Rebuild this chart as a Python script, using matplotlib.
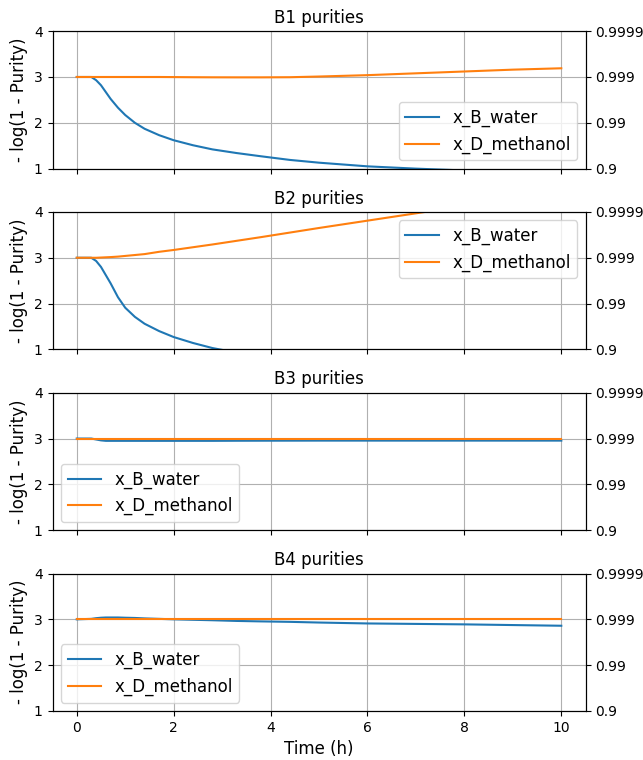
import matplotlib
matplotlib.use("Agg")
import matplotlib.pyplot as plt

time_h = [0, 0.3, 0.4, 0.5, 0.6, 0.7, 0.85, 1.0, 1.2, 1.4, 1.7, 2.0, 2.4, 2.8,
          3.3, 3.8, 4.4, 5, 6, 7, 8, 9, 10]

b1_water = [3.0, 3.0, 2.93, 2.82, 2.67, 2.52, 2.33, 2.17, 2.0, 1.87, 1.73, 1.62, 1.51, 1.42,
            1.34, 1.27, 1.19, 1.13, 1.05, 1.0, 0.96, 0.93, 0.90]
b1_methanol = [3.0, 3.0, 3.0, 3.0, 3.0, 3.0, 3.0, 3.0, 3.0, 3.0, 3.0, 2.998, 2.995, 2.993,
               2.992, 2.992, 2.995, 3.01, 3.04, 3.08, 3.12, 3.16, 3.19]

b2_water = [3.0, 3.0, 2.93, 2.80, 2.62, 2.44, 2.14, 1.91, 1.71, 1.56, 1.40, 1.27, 1.14, 1.03,
            0.93, 0.85, 0.77, 0.70, 0.60, 0.50, 0.45, 0.40, 0.35]
b2_methanol = [3.0, 3.0, 3.0, 3.005, 3.01, 3.015, 3.025, 3.04, 3.06, 3.08, 3.13, 3.17, 3.23, 3.29,
               3.37, 3.45, 3.55, 3.65, 3.81, 3.97, 4.13, 4.30, 4.47]

b3_water = [3.0, 3.0, 2.98, 2.96, 2.95, 2.95, 2.95, 2.95, 2.95, 2.95, 2.95, 2.95, 2.95, 2.95,
            2.952, 2.953, 2.954, 2.955, 2.955, 2.955, 2.955, 2.955, 2.955]
b3_methanol = [3.0] * 23

b4_water = [3.0, 3.01, 3.025, 3.035, 3.04, 3.04, 3.04, 3.035, 3.03, 3.02, 3.01, 3.0, 2.99, 2.98,
            2.965, 2.955, 2.945, 2.93, 2.91, 2.90, 2.89, 2.875, 2.86]
b4_methanol = [3.0] * 23

titles = ["B1 purities", "B2 purities", "B3 purities", "B4 purities"]
series_water = [b1_water, b2_water, b3_water, b4_water]
series_methanol = [b1_methanol, b2_methanol, b3_methanol, b4_methanol]
legend_locs = ["lower right", "upper right", "lower left", "lower left"]

left_ticks = [1, 2, 3, 4]
right_ticklabels = ["0.9", "0.99", "0.999", "0.9999"]
x_ticks = [0, 2, 4, 6, 8, 10]

fig, axes = plt.subplots(4, 1, figsize=(6.43, 7.6), dpi=100, sharex=True)
fig.subplots_adjust(left=0.0817, right=0.9106, top=0.959, bottom=0.0645, hspace=0.315)

for ax, title, w, m, loc in zip(axes, titles, series_water, series_methanol, legend_locs):
    ax.plot(time_h, w, color="tab:blue", lw=1.5, label="x_B_water")
    ax.plot(time_h, m, color="tab:orange", lw=1.5, label="x_D_methanol")
    ax.set_ylim(1, 4)
    ax.set_yticks(left_ticks)
    ax.set_xticks(x_ticks)
    ax.grid(True)
    ax.set_title(title, fontsize=12)
    ax.set_ylabel("- log(1 - Purity)", fontsize=12)
    ax.tick_params(labelsize=10)
    ax.legend(loc=loc, fontsize=12)
    ax2 = ax.twinx()
    ax2.set_ylim(1, 4)
    ax2.set_yticks(left_ticks)
    ax2.set_yticklabels(right_ticklabels)
    ax2.tick_params(labelsize=10)

axes[-1].set_xlabel("Time (h)", fontsize=12)

fig.savefig("out.png", dpi=100)
